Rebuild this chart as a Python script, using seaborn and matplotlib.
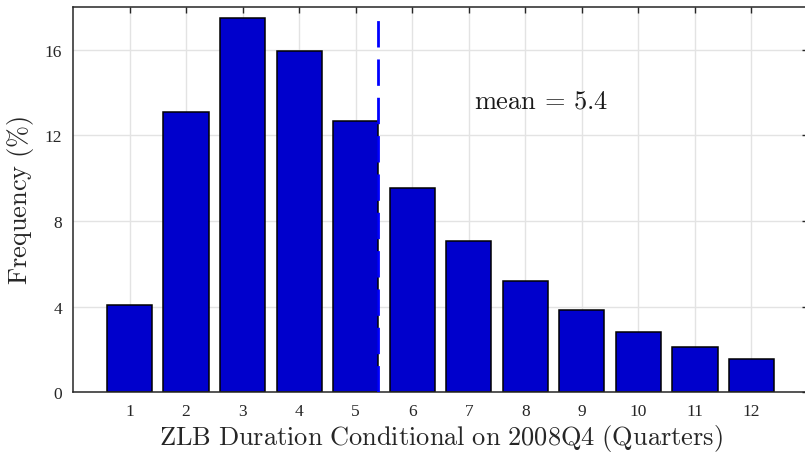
import numpy as np
import pandas as pd
import seaborn as sns
import matplotlib
matplotlib.use("Agg")
import matplotlib.pyplot as plt

# ZLB duration distribution (conditional on 2008Q4)
quarters = [1, 2, 3, 4, 5, 6, 7, 8, 9, 10, 11, 12]
freq = [4.05, 13.1, 17.48, 15.96, 12.67, 9.53, 7.07, 5.2, 3.82, 2.8, 2.1, 1.55]
mean_val = 5.4
yticks = [0, 4, 8, 12, 16]

sns.set_style("whitegrid", {"grid.color": "#e3e3e3", "axes.edgecolor": "#262626"})
plt.rcParams["font.family"] = ["Liberation Serif", "DejaVu Serif"]
plt.rcParams["mathtext.fontset"] = "cm"

df = pd.DataFrame({"Quarters": quarters, "Frequency": freq})

fig = plt.figure(figsize=(8.05, 4.56), dpi=100)
ax = fig.add_axes([0.0907, 0.138, 0.913, 0.8443])

sns.barplot(data=df, x="Quarters", y="Frequency", native_scale=True, width=0.8,
            color="#0000CC", saturation=1, edgecolor="black", linewidth=1.1, ax=ax)

# mean marker
ax.vlines(mean_val, 0, max(freq), colors="#0000FF", linewidth=2.0,
          linestyles=(0, (9.5, 4.3)), zorder=5)
ax.text(7.1, 13.6, r"$\mathrm{mean}\,=\,5.4$", fontsize=19, va="center", color="#1a1a1a")

ax.set_xlim(0, 13)
ax.set_ylim(0, 18)
ax.set_xticks(quarters)
ax.set_yticks(yticks)
ax.tick_params(direction="in", length=4, width=1, top=True, right=True,
               labelsize=12.5, colors="#262626", labelcolor="#262626", pad=8)
ax.grid(True, linewidth=1)
ax.set_axisbelow(True)
for s in ax.spines.values():
    s.set_linewidth(1.1)
ax.spines["right"].set_visible(False)

ax.set_xlabel(r"$\mathrm{ZLB\ Duration\ Conditional\ on\ 2008Q4\ (Quarters)}$",
              fontsize=19, color="#262626", labelpad=2)
ax.set_ylabel(r"$\mathrm{Frequency\ (\%)}$", fontsize=19, color="#262626", labelpad=6)

fig.savefig("out.png", dpi=100)
